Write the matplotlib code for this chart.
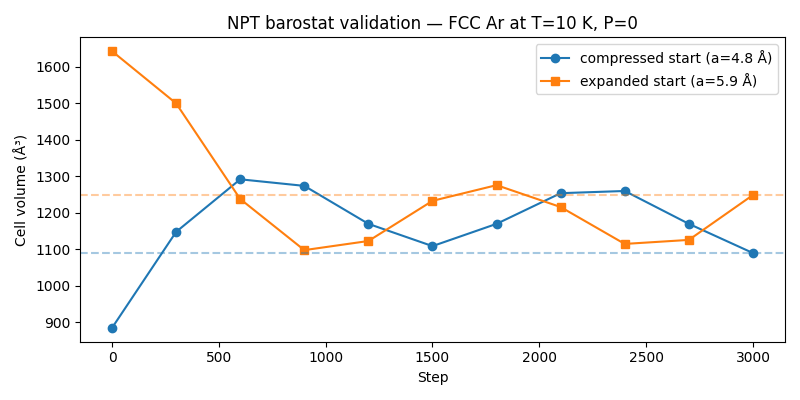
import matplotlib
matplotlib.use("Agg")
import matplotlib.pyplot as plt

# data
steps = [0, 300, 600, 900, 1200, 1500, 1800, 2100, 2400, 2700, 3000]
vol_compressed = [885, 1148, 1292, 1274, 1170, 1109, 1170, 1254, 1260, 1170, 1090]
vol_expanded = [1643, 1500, 1238, 1098, 1123, 1233, 1276, 1216, 1115, 1126, 1249]

fig, ax = plt.subplots(figsize=(8, 4), dpi=100)
ax.plot(steps, vol_compressed, "o-", color="C0", label="compressed start (a=4.8 Å)")
ax.plot(steps, vol_expanded, "s-", color="C1", label="expanded start (a=5.9 Å)")

# final volumes as reference lines
ax.axhline(vol_compressed[-1], color="C0", ls="--", alpha=0.4)
ax.axhline(vol_expanded[-1], color="C1", ls="--", alpha=0.4)

ax.set_xlabel("Step")
ax.set_ylabel("Cell volume (Å³)")
ax.set_title("NPT barostat validation — FCC Ar at T=10 K, P=0")
ax.legend()
fig.tight_layout()
fig.savefig("out.png")
